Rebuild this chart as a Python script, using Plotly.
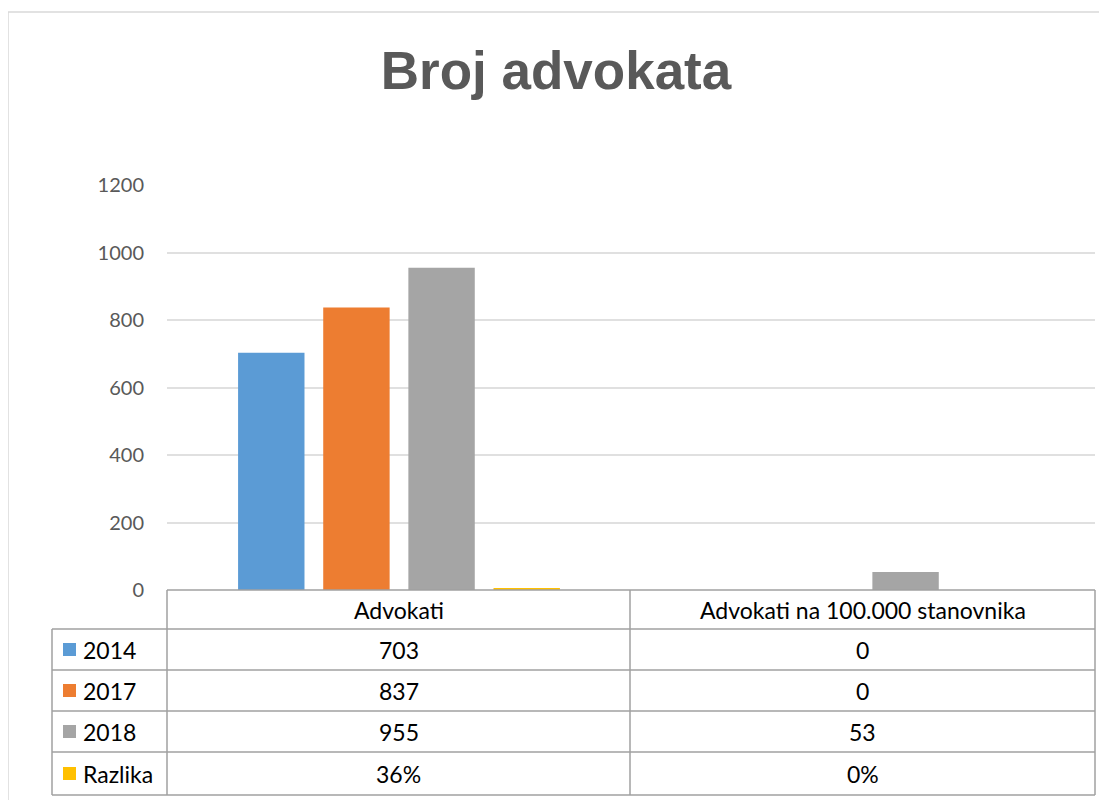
import plotly.graph_objects as go

categories = ["Advokati", "Advokati na 100.000 stanovnika"]
series_names = ["2014", "2017", "2018", "Razlika"]
v2014 = [703, 0]
v2017 = [837, 0]
v2018 = [955, 53]
razlika = [0.36, 0]
table_text = {
    "2014": ["703", "0"],
    "2017": ["837", "0"],
    "2018": ["955", "53"],
    "Razlika": ["36%", "0%"],
}
colors = ["#5b9bd5", "#ed7d31", "#a5a5a5", "#ffc000"]
y_ticks = [0, 200, 400, 600, 800, 1000, 1200]

W, H = 1107, 800
OFF = 8  # page body margin
SL, SR, ST, SB = 167, 1095, 185, 590
L, R, T, B = SL - OFF, SR - OFF, ST - OFF, SB - OFF

# Like the source spreadsheet, give non-zero bars a minimum visible height
MIN_VISIBLE = 6

fig = go.Figure()
for name, vals, c in zip(series_names, [v2014, v2017, v2018, razlika], colors):
    shown = [max(v, MIN_VISIBLE) if v > 0 else 0 for v in vals]
    fig.add_bar(x=categories, y=shown, customdata=vals, name=name, marker_color=c,
                marker_line_width=0, showlegend=False,
                hovertemplate="%{x}<br>" + name + ": %{customdata}<extra></extra>")

def px(x):
    return (x - SL) / (SR - SL)

def py(y):
    return (SB - y) / (SB - ST)

shapes = []
line = dict(color="#a0a0a0", width=1.5)
shapes.append(dict(type="rect", xref="paper", yref="paper",
                   x0=px(8), x1=px(1130), y0=py(12), y1=py(830),
                   line=dict(color="#d9d9d9", width=1.5), layer="below"))
rows_y = [590, 629, 670, 711, 752, 795]
for i, yy in enumerate(rows_y):
    x0 = SL if i == 0 else 52
    shapes.append(dict(type="line", xref="paper", yref="paper",
                       x0=px(x0), x1=px(SR), y0=py(yy), y1=py(yy), line=line))
for xx in [SL, 630, SR]:
    shapes.append(dict(type="line", xref="paper", yref="paper",
                       x0=px(xx), x1=px(xx), y0=py(590), y1=py(795), line=line))
shapes.append(dict(type="line", xref="paper", yref="paper",
                   x0=px(52), x1=px(52), y0=py(629), y1=py(795), line=line))

annotations = []
font_t = dict(family="Lato, Open Sans, sans-serif", size=23, color="#000000")
col_centers = [(SL + 630) / 2, (630 + SR) / 2]
for ci, cat in enumerate(categories):
    annotations.append(dict(xref="paper", yref="paper", x=px(col_centers[ci]),
                            y=py(610), text=cat, showarrow=False, font=font_t,
                            xanchor="center", yanchor="middle"))
for ri, name in enumerate(series_names):
    yc = (rows_y[ri + 1] + rows_y[ri + 2]) / 2
    shapes.append(dict(type="rect", xref="paper", yref="paper",
                       x0=px(63), x1=px(76), y0=py(yc - 6.5), y1=py(yc + 6.5),
                       fillcolor=colors[ri], line=dict(width=0)))
    annotations.append(dict(xref="paper", yref="paper", x=px(81), y=py(yc),
                            text=name, showarrow=False, font=font_t,
                            xanchor="left", yanchor="middle"))
    for ci in range(2):
        annotations.append(dict(xref="paper", yref="paper", x=px(col_centers[ci]),
                                y=py(yc), text=table_text[name][ci], showarrow=False,
                                font=font_t, xanchor="center", yanchor="middle"))

fig.update_layout(
    width=W, height=H,
    margin=dict(l=L, r=W - R, t=T, b=H - B),
    paper_bgcolor="white", plot_bgcolor="white",
    barmode="group", bargap=0.266, bargroupgap=0.22,
    title=dict(text="<b>Broj advokata</b>", x=px(556), xanchor="center",
               xref="paper", y=1 - (70 - OFF) / H, yanchor="middle",
               font=dict(family="Liberation Sans Narrow, Arial Narrow, Liberation Sans, sans-serif",
                         size=53, color="#595959")),
    xaxis=dict(showticklabels=False, showgrid=False, showline=False, ticks="",
               range=[-0.5, 1.5]),
    yaxis=dict(range=[0, 1200], tickvals=y_ticks, showgrid=True, gridcolor="#e0e0e0",
               gridwidth=1.5, zeroline=False, showline=False, ticks="",
               ticklabelstandoff=22,
               tickfont=dict(family="Lato, Open Sans, sans-serif", size=20, color="#595959")),
    shapes=shapes, annotations=annotations,
)
fig.write_html("out.html")
